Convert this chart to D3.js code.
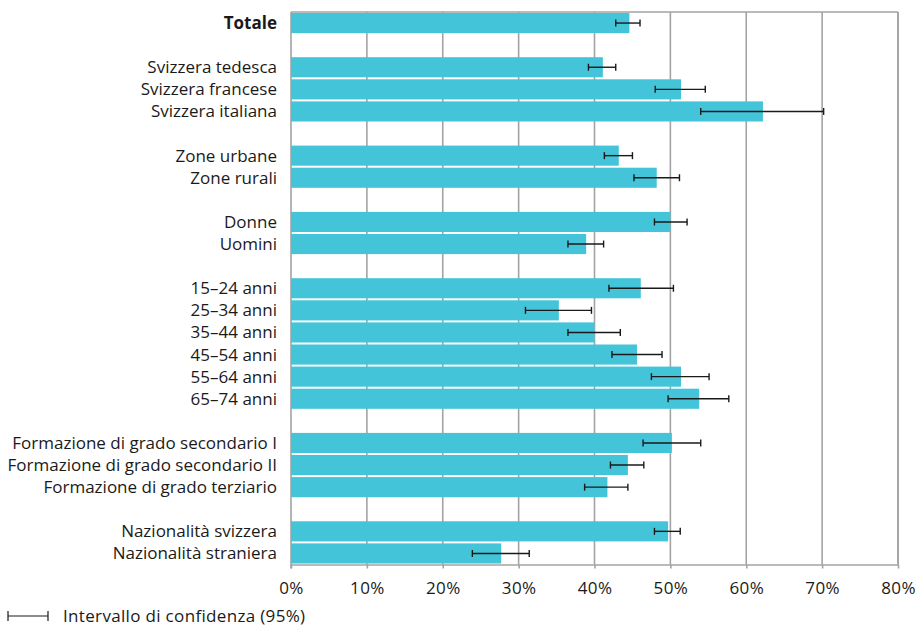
<!DOCTYPE html>
<html>
<head>
<meta charset="utf-8">
<script src="https://cdn.jsdelivr.net/npm/d3@7"></script>
<style>
  html, body { margin: 0; padding: 0; background: #fff; }
  svg { display: block; font-family: "Open Sans", "Noto Sans", sans-serif; }
</style>
</head>
<body>
<svg id="chart" width="918" height="626"></svg>
<script>
// Row labels; null marks an empty spacer row between groups
const categories = [
  "Totale", null,
  "Svizzera tedesca", "Svizzera francese", "Svizzera italiana", null,
  "Zone urbane", "Zone rurali", null,
  "Donne", "Uomini", null,
  "15–24 anni", "25–34 anni", "35–44 anni", "45–54 anni", "55–64 anni", "65–74 anni", null,
  "Formazione di grado secondario I", "Formazione di grado secondario II", "Formazione di grado terziario", null,
  "Nazionalità svizzera", "Nazionalità straniera"
];
// Share (%) per row
const values = [
  44.6, null,
  41.1, 51.4, 62.2, null,
  43.2, 48.2, null,
  50.0, 38.9, null,
  46.1, 35.3, 40.0, 45.6, 51.4, 53.8, null,
  50.2, 44.4, 41.7, null,
  49.7, 27.7
];
// 95% confidence interval bounds (%)
const ciLow = [
  42.8, null,
  39.2, 48.0, 54.0, null,
  41.3, 45.2, null,
  47.9, 36.5, null,
  41.9, 30.9, 36.5, 42.3, 47.5, 49.7, null,
  46.4, 42.1, 38.7, null,
  47.9, 23.9
];
const ciHigh = [
  46.0, null,
  42.8, 54.6, 70.2, null,
  45.0, 51.2, null,
  52.2, 41.2, null,
  50.4, 39.6, 43.4, 48.9, 55.1, 57.7, null,
  54.0, 46.5, 44.4, null,
  51.3, 31.4
];
const xTicks = [0, 10, 20, 30, 40, 50, 60, 70, 80];
const boldRows = ["Totale"];
const legendLabel = "Intervallo di confidenza (95%)";

const rows = categories.map((c, i) => ({
  i, label: c, value: values[i], lo: ciLow[i], hi: ciHigh[i]
}));

const svg = d3.select("#chart");
const plotLeft = 291, plotRight = 898, plotTop = 12, plotBottom = 564.5;
const fontSize = "17px";

const x = d3.scaleLinear().domain([0, 80]).range([plotLeft, plotRight]);
const y = d3.scaleBand()
  .domain(d3.range(categories.length))
  .range([plotTop, plotBottom])
  .paddingInner(0.09)
  .paddingOuter(0.045);

const gridColor = "#a3a3a3";

// vertical gridlines
svg.append("g")
  .selectAll("line")
  .data(xTicks.filter(t => t > 0))
  .join("line")
  .attr("x1", d => x(d)).attr("x2", d => x(d))
  .attr("y1", plotTop).attr("y2", plotBottom)
  .attr("stroke", gridColor).attr("stroke-width", 1.6);

// top border
svg.append("line")
  .attr("x1", plotLeft).attr("x2", plotRight)
  .attr("y1", plotTop).attr("y2", plotTop)
  .attr("stroke", gridColor).attr("stroke-width", 1.6);

// bars
svg.append("g")
  .selectAll("rect")
  .data(rows.filter(r => r.value != null))
  .join("rect")
  .attr("x", x(0))
  .attr("y", d => y(d.i))
  .attr("width", d => x(d.value) - x(0))
  .attr("height", y.bandwidth())
  .attr("fill", "#43c4d9");

// confidence intervals
const ci = svg.append("g")
  .selectAll("g")
  .data(rows.filter(r => r.value != null))
  .join("g")
  .attr("transform", d => `translate(0,${y(d.i) + y.bandwidth() / 2})`);
ci.append("line")
  .attr("x1", d => x(d.lo)).attr("x2", d => x(d.hi))
  .attr("stroke", "#1a1a1a").attr("stroke-width", 1.4);
ci.selectAll("line.cap")
  .data(d => [d.lo, d.hi])
  .join("line")
  .attr("class", "cap")
  .attr("x1", v => x(v)).attr("x2", v => x(v))
  .attr("y1", -3.5).attr("y2", 3.5)
  .attr("stroke", "#1a1a1a").attr("stroke-width", 1.4);

// x axis
const xAxis = d3.axisBottom(x)
  .tickValues(xTicks)
  .tickFormat(d => d + "%")
  .tickSize(4)
  .tickSizeOuter(0);
const gx = svg.append("g")
  .attr("transform", `translate(0,${plotBottom})`)
  .call(xAxis);
gx.select(".domain").attr("stroke", gridColor).attr("stroke-width", 1.6);
gx.selectAll(".tick line").attr("stroke", gridColor).attr("stroke-width", 1.6);
gx.selectAll(".tick text")
  .attr("dy", 0).attr("y", 29)
  .attr("fill", "#1a1a1a")
  .style("font-size", fontSize)
  .style("letter-spacing", "0.4px")
  .style("font-family", "\"Open Sans\", \"Noto Sans\", sans-serif");

// left axis line
svg.append("line")
  .attr("x1", plotLeft).attr("x2", plotLeft)
  .attr("y1", plotTop).attr("y2", plotBottom + 4)
  .attr("stroke", gridColor).attr("stroke-width", 1.6);

// right border
svg.append("line")
  .attr("x1", plotRight).attr("x2", plotRight)
  .attr("y1", plotTop).attr("y2", plotBottom)
  .attr("stroke", gridColor).attr("stroke-width", 1.6);

// row labels
svg.append("g")
  .selectAll("text")
  .data(rows.filter(r => r.label))
  .join("text")
  .attr("x", plotLeft - 14)
  .attr("y", d => y(d.i) + y.bandwidth() / 2)
  .attr("dy", "0.35em")
  .attr("text-anchor", "end")
  .attr("fill", "#1a1a1a")
  .style("font-size", fontSize)
  .style("font-weight", d => boldRows.includes(d.label) ? 700 : 400)
  .text(d => d.label);

// legend
const lg = svg.append("g").attr("transform", "translate(8,616)");
lg.append("line").attr("x1", 0).attr("x2", 40)
  .attr("stroke", "#1a1a1a").attr("stroke-width", 1.2);
lg.selectAll("line.cap").data([0, 40]).join("line")
  .attr("class", "cap")
  .attr("x1", d => d).attr("x2", d => d)
  .attr("y1", -5).attr("y2", 5)
  .attr("stroke", "#1a1a1a").attr("stroke-width", 1.2);
lg.append("text")
  .attr("x", 55).attr("dy", "0.35em")
  .attr("fill", "#1a1a1a")
  .style("font-size", fontSize)
  .style("letter-spacing", "0.33px")
  .text(legendLabel);
</script>
</body>
</html>
